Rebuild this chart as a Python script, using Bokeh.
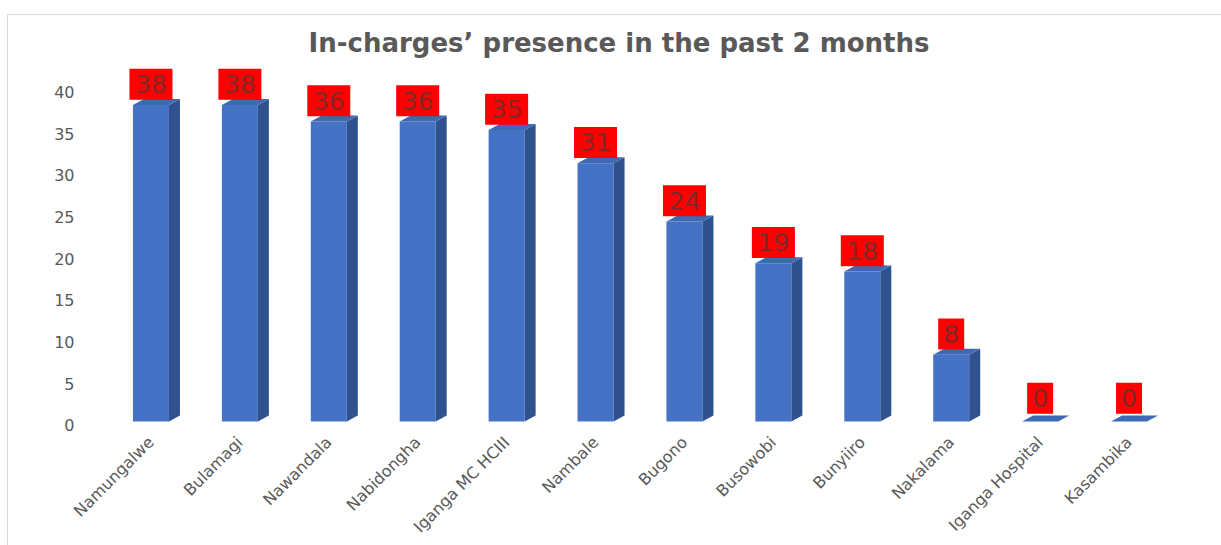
import numpy as np
from bokeh.plotting import figure
from bokeh.models import Range1d, LinearAxis, FixedTicker, Label, ColumnDataSource
from bokeh.layouts import column
from bokeh.core.properties import value
from bokeh.embed import file_html
from bokeh.resources import INLINE

# ---- data ----
facilities = ["Namungalwe", "Bulamagi", "Nawandala", "Nabidongha", "Iganga MC HCIII",
              "Nambale", "Bugono", "Busowobi", "Bunyiiro", "Nakalama",
              "Iganga Hospital", "Kasambika"]
presence = [38, 38, 36, 36, 35, 31, 24, 19, 18, 8, 0, 0]
y_ticks = [0, 5, 10, 15, 20, 25, 30, 35, 40]
title_text = "In-charges’  presence in the past 2 months"

FONT = "DejaVu Sans"
GREY = "#595959"

n = len(facilities)
ystart, yend = -1.44, 48.62

p = figure(width=1213, height=530, output_backend="svg", toolbar_location=None,
           x_range=Range1d(0, n), y_range=Range1d(ystart, yend),
           min_border_left=98, min_border_right=48, min_border_top=1, min_border_bottom=112,
           background_fill_color="white", border_fill_color="white")
p.outline_line_color = None
p.grid.visible = False
p.yaxis.visible = False

# y axis on a slightly shifted range (3D back-wall offset)
d = 0.45
p.extra_y_ranges = {"ticks": Range1d(ystart + d, yend + d)}
yax = LinearAxis(y_range_name="ticks", ticker=FixedTicker(ticks=y_ticks))
yax.axis_line_color = None
yax.major_tick_line_color = None
yax.minor_tick_line_color = None
yax.major_label_standoff = 26
yax.major_label_text_font = FONT
yax.major_label_text_font_size = "16px"
yax.major_label_text_color = GREY
p.add_layout(yax, "left")

xs = [i + 0.5 for i in range(n)]
p.xaxis.ticker = FixedTicker(ticks=xs)
p.xaxis.major_label_overrides = {x: f for x, f in zip(xs, facilities)}
p.xaxis.major_label_orientation = np.pi / 4
p.xaxis.axis_line_color = None
p.xaxis.major_tick_line_color = None
p.xaxis.minor_tick_line_color = None
p.xaxis.major_label_standoff = 0
p.xaxis.major_label_text_font = FONT
p.xaxis.major_label_text_font_size = "16px"
p.xaxis.major_label_text_color = GREY

# 3D bars
w = 36 / 88.9
dx = 11 / 88.9
dy = 6 / 8.33
front_l, front_r, front_b, front_t = [], [], [], []
side_x, side_y, top_x, top_y = [], [], [], []
for x, v in zip(xs, presence):
    l, r = x - w / 2, x + w / 2
    if v > 0:
        front_l.append(l); front_r.append(r); front_b.append(0); front_t.append(v)
        side_x.append([r, r + dx, r + dx, r]); side_y.append([0, dy, v + dy, v])
    top_x.append([l, l + dx, r + dx, r]); top_y.append([v, v + dy, v + dy, v])

p.quad(left=front_l, right=front_r, bottom=front_b, top=front_t,
       fill_color="#4472C4", line_color=None)
p.patches(side_x, side_y, fill_color="#2F528F", line_color=None)
p.patches(top_x, top_y, fill_color="#3E69B4", line_color=None)

# data labels
lab = ColumnDataSource(dict(
    x=xs,
    y=[v + (2.5 if v > 0 else 2.8) for v in presence],
    w=[9 + 17 * len(str(v)) for v in presence],
    t=[str(v) for v in presence],
))
p.rect(x="x", y="y", width="w", height=31, width_units="screen", height_units="screen",
       source=lab, fill_color="#FF0000", line_color=None)
p.text(x="x", y="y", text="t", source=lab, text_align="center", text_baseline="middle",
       text_font=value(FONT), text_font_size="25px", text_color="#7f2828")

# title
p.add_layout(Label(x=(623 - 106) / 88.9, y=(421 - 42) / 8.33, text=title_text,
                   text_align="center", text_baseline="middle",
                   text_font=FONT, text_font_size="26px", text_font_style="bold",
                   text_color=GREY))

lay = column(p, margin=(14, 0, 0, 7), styles={"border": "1px solid #d9d9d9"})

open("out.html", "w").write(file_html(lay, INLINE))
